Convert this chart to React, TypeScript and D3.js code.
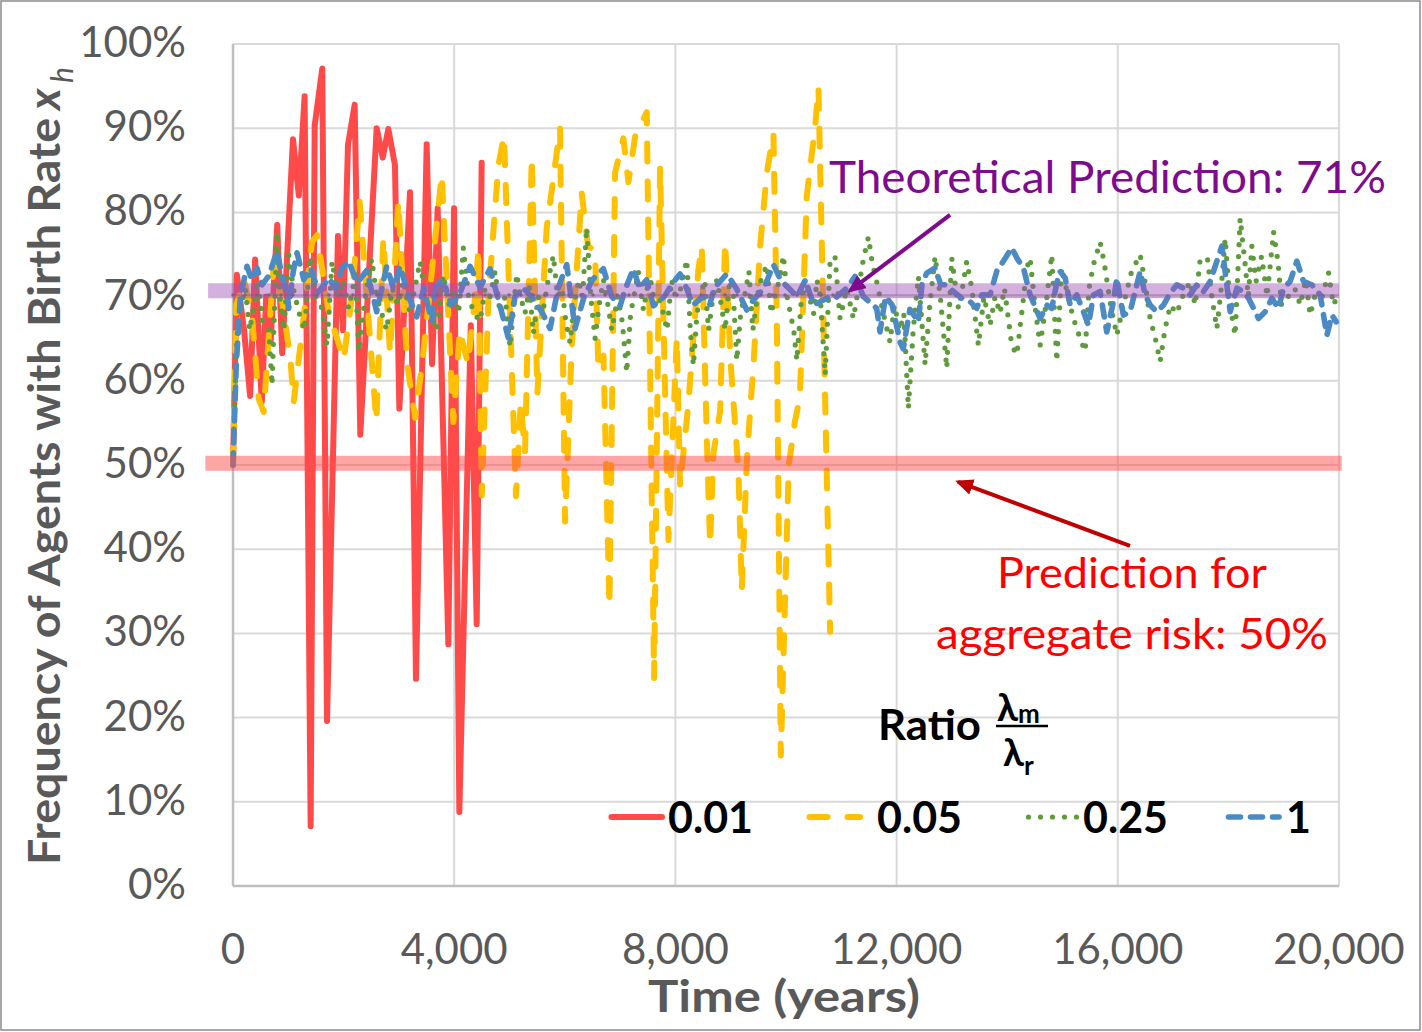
import React from "react";
import * as d3 from "d3";

// values: [years, percent]
const ratio001: [number, number][] = [
  [0, 50], [70, 72.6], [200, 66], [310, 58.2], [400, 74.4], [520, 57.5], [600, 70], [680, 64.6],
  [800, 78.5], [890, 63.3], [1085, 88.7], [1190, 82], [1295, 93.8], [1404, 7.1], [1477, 90.3],
  [1615, 97.1], [1700, 19.6], [1898, 77.2], [1989, 66], [2079, 88], [2200, 92.8], [2302, 53.6],
  [2598, 90], [2707, 86.5], [2809, 89.9], [2929, 85.6], [3008, 56.7], [3201, 82.4], [3309, 24.6],
  [3502, 88.1], [3600, 62], [3701, 80.5], [3894, 28.7], [3997, 80.5], [4093, 8.8], [4300, 66.6],
  [4407, 31.1], [4497, 85.9],
];

const ratio005: [number, number][] = [
  [0, 50], [60, 69], [200, 72], [344, 67.6], [464, 57.9], [555, 56.3], [736, 73.8], [887, 69.4],
  [1037, 62.7], [1098, 57.5], [1250, 66], [1429, 76.5], [1520, 77.3], [1730, 68.2], [2002, 62.5],
  [2150, 70], [2290, 81.3], [2420, 70], [2592, 55.2], [2719, 76.9], [2840, 63.3], [2990, 81.3],
  [3150, 62], [3292, 55.6], [3420, 62], [3550, 70], [3774, 84.5], [3985, 55.1], [4100, 66],
  [4250, 62], [4380, 70], [4438, 75.8], [4498, 46.4], [4620, 70], [4799, 85.6], [4901, 89.1],
  [5118, 46.3], [5203, 57.4], [5281, 51.5], [5402, 86.6], [5504, 58.5], [5673, 78.2], [5914, 90],
  [6005, 43.3], [6125, 64], [6306, 82.3], [6420, 76], [6547, 75.4], [6608, 61.3], [6700, 63],
  [6807, 33.2], [6909, 84.7], [7060, 88.8], [7150, 83.6], [7271, 89], [7482, 91.9], [7615, 24.7],
  [7723, 85.3], [7874, 41.1], [8025, 65.1], [8085, 47.5], [8236, 57.4], [8417, 73.3], [8477, 76],
  [8568, 53.1], [8628, 40.5], [8688, 51.4], [8809, 56.4], [8899, 76.5], [9000, 62], [9140, 49.3],
  [9200, 35.1], [9291, 50.4], [9351, 56.4], [9412, 61.8], [9532, 76], [9653, 84.7], [9773, 89.3],
  [9834, 67.3], [9906, 15.5], [10050, 50], [10165, 55.3], [10250, 58], [10376, 82], [10527, 90.2],
  [10587, 94.8], [10798, 30.2],
];

const ratio025: [number, number][] = [
  [0, 50], [12, 54], [72, 65.4], [150, 69], [223, 71], [300, 66], [374, 68.6], [450, 72], [530, 67],
  [645, 66.2], [706, 59.5], [796, 77.7], [850, 70], [920, 66], [1007, 75], [1090, 71], [1188, 68.2],
  [1290, 66], [1399, 74.8], [1500, 70], [1610, 68.6], [1700, 64.2], [1791, 74.2], [1900, 70],
  [1990, 72], [2093, 68.6], [2213, 72.6], [2274, 63.5], [2350, 68], [2508, 74.5], [2600, 70],
  [2690, 68], [2779, 66], [2880, 71], [2980, 69], [3080, 72], [3200, 68], [3290, 71], [3382, 74.2],
  [3480, 70], [3580, 68], [3684, 66], [3804, 72.6], [3900, 69], [4000, 71], [4080, 68], [4166, 75.8],
  [4260, 70], [4360, 68], [4468, 67.1], [4560, 71], [4648, 70], [4740, 73], [4829, 68], [4920, 70],
  [5010, 64], [5130, 72.7], [5200, 70], [5280, 68], [5360, 71], [5432, 65.6], [5520, 70], [5600, 68],
  [5700, 72], [5793, 74.9], [5870, 70], [5950, 71], [6020, 67], [6095, 64.5], [6170, 69], [6250, 72],
  [6320, 70], [6397, 78.2], [6470, 70], [6547, 65], [6620, 69], [6700, 72], [6780, 69], [6850, 66],
  [6960, 70], [7040, 67], [7120, 61], [7190, 68], [7250, 70], [7330, 73], [7422, 68.4], [7490, 71],
  [7550, 72], [7630, 69], [7700, 70], [7780, 68], [7850, 66], [7930, 72], [8000, 70], [8100, 71],
  [8206, 74.4], [8270, 66], [8326, 61.8], [8390, 68], [8450, 70], [8530, 72], [8600, 66], [8680, 70],
  [8750, 72], [8830, 69], [8900, 66], [8980, 72], [9050, 70], [9110, 62.4], [9180, 68], [9250, 70],
  [9330, 73], [9400, 66], [9480, 70], [9550, 72], [9653, 73.8], [9730, 68], [9800, 70], [9880, 72],
  [9954, 74.9], [10020, 70], [10080, 68], [10140, 66], [10196, 62.4], [10270, 69], [10350, 72],
  [10420, 70], [10500, 68], [10560, 72], [10620, 70], [10708, 60.7], [10798, 74.3], [10886, 74.8],
  [10977, 67.4], [11100, 71], [11218, 67.4], [11310, 71], [11399, 74.4], [11490, 77.1], [11560, 74],
  [11640, 71.8], [11760, 68], [11881, 64.6], [11960, 69], [12060, 66], [12130, 68], [12213, 56.7],
  [12300, 66], [12394, 72.4], [12515, 61.9], [12600, 69], [12696, 74.8], [12790, 70], [12907, 61.5],
  [12997, 74.6], [13118, 68.6], [13190, 71], [13268, 74.2], [13360, 71], [13479, 64.2], [13580, 70],
  [13690, 66.6], [13780, 70], [13870, 68], [13950, 71], [14083, 64.2], [14173, 63.1], [14280, 69],
  [14354, 73.4], [14414, 74.6], [14500, 69], [14595, 64.2], [14700, 69], [14806, 75], [14896, 62.3],
  [14987, 73.4], [15100, 70], [15198, 67.4], [15320, 65], [15409, 63.5], [15480, 71], [15560, 73.8],
  [15680, 76.5], [15760, 73.8], [15870, 69], [15982, 65.4], [16100, 69], [16250, 73], [16404, 75],
  [16490, 71.8], [16585, 67.4], [16680, 65], [16766, 62.3], [16850, 66], [16950, 69], [17067, 68],
  [17170, 70], [17308, 71.8], [17400, 69], [17489, 74.4], [17620, 74.6], [17700, 70], [17791, 66.2],
  [17870, 71], [17942, 76.9], [18030, 69], [18122, 65.4], [18213, 79.3], [18300, 74], [18360, 70],
  [18424, 76], [18500, 71.8], [18600, 74.8], [18700, 70], [18816, 77.7], [18900, 74], [18960, 69],
  [19080, 70], [19200, 71], [19300, 69], [19400, 72], [19479, 67.8], [19560, 70], [19680, 69.6],
  [19811, 72.8], [19900, 69], [20000, 70.5],
];

const ratio1: [number, number][] = [
  [0, 50], [60, 62], [133, 70], [253, 73.6], [340, 72], [434, 73.4], [525, 71.4], [650, 72.5],
  [796, 75.4], [900, 72], [977, 70.6], [1007, 68.6], [1090, 73], [1158, 75.2], [1280, 72],
  [1399, 73.4], [1550, 70.6], [1731, 72.2], [1850, 71], [1972, 73.4], [2093, 74.2], [2243, 71.6],
  [2418, 73.1], [2598, 68.2], [2779, 73.6], [2900, 71], [3020, 73.6], [3180, 70], [3322, 67.6],
  [3450, 71], [3593, 67.1], [3684, 72], [3850, 71], [3950, 69], [4106, 70.4], [4287, 73.6],
  [4467, 71.1], [4648, 73.3], [4829, 68.9], [4979, 65.1], [5100, 70], [5250, 71], [5400, 70],
  [5600, 68], [5733, 66.2], [5880, 71], [6035, 73.8], [6185, 66.2], [6350, 70], [6500, 72],
  [6698, 73.3], [6850, 70], [7000, 68.9], [7100, 71], [7241, 73.3], [7350, 71], [7480, 72],
  [7603, 68.9], [7800, 70], [7940, 71.5], [8085, 72.7], [8200, 71], [8320, 69], [8500, 70],
  [8620, 69], [8700, 71], [8929, 72.7], [9100, 71], [9291, 68.4], [9400, 69.5], [9600, 71],
  [9773, 73.8], [9900, 72], [10050, 71], [10200, 70], [10350, 72], [10500, 69], [10650, 69.5],
  [10800, 70], [10886, 69.8], [11100, 71], [11248, 72.4], [11400, 70], [11640, 68.6], [11700, 65.8],
  [11800, 70], [11920, 69], [12063, 64.6], [12120, 63.8], [12240, 68.5], [12394, 67], [12460, 71.5],
  [12545, 72.8], [12696, 73.4], [12800, 71.4], [12907, 71.4], [13030, 70.6], [13180, 69.8],
  [13330, 69.4], [13449, 68.6], [13540, 70.2], [13690, 70.2], [13811, 73], [13930, 74.2],
  [14083, 75.8], [14173, 74.6], [14294, 73.4], [14414, 70.2], [14595, 67.4], [14716, 69],
  [14806, 68.6], [14896, 71.6], [14957, 73], [15050, 72.2], [15138, 69], [15258, 70.2], [15379, 68.2],
  [15469, 66.6], [15560, 70.2], [15680, 70.6], [15801, 65.8], [15921, 69.4], [15982, 72.2],
  [16042, 69.8], [16102, 67.8], [16222, 68.2], [16404, 73], [16494, 70.2], [16585, 69], [16705, 68.2],
  [16826, 69], [16946, 70.4], [17067, 71.4], [17187, 71], [17308, 70.2], [17429, 71.4], [17550, 70.6],
  [17670, 71.8], [17821, 74.8], [17882, 76], [17972, 71.4], [18032, 68.2], [18153, 71], [18273, 70.6],
  [18364, 69.8], [18545, 67.4], [18665, 68.2], [18786, 69.8], [18906, 68.6], [18997, 71],
  [19117, 71.8], [19238, 74.2], [19358, 71.8], [19509, 71.4], [19660, 70.2], [19781, 65.4],
  [19871, 67.8], [19950, 67],
];

const legendLabels = ["0.01", "0.05", "0.25", "1"];
const xTicks = [0, 4000, 8000, 12000, 16000, 20000];
const yTicks = [0, 10, 20, 30, 40, 50, 60, 70, 80, 90, 100];
const theoryLevel = 70.7;
const aggregateLevel = 50.2;

const W = 1422;
const H = 1032;
const FONT = "Lato, 'Open Sans', 'DejaVu Sans', sans-serif";

const x = d3.scaleLinear().domain([0, 20000]).range([233, 1339]);
const y = d3.scaleLinear().domain([0, 100]).range([886, 44]);

const line = d3
  .line<[number, number]>()
  .x((d) => x(d[0]))
  .y((d) => y(d[1]));

const seriesStyle = [
  { data: ratio001, color: "#FF4A4A", width: 6, dash: undefined },
  { data: ratio005, color: "#FFC000", width: 6, dash: "18,20" },
  { data: ratio025, color: "#5F9B3D", width: 5.2, dash: "0,12" },
  { data: ratio1, color: "#4C8AC3", width: 5.6, dash: "12,10" },
];

const legendX = [609, 807, 1026, 1226];
const legendTextX = [668, 877, 1083, 1286];

const fmtX = d3.format(",");

export default function App() {
  return (
    <div style={{ position: "absolute", left: 0, top: 0 }}>
      <svg width={W} height={H} style={{ display: "block", background: "#fff" }} fontFamily={FONT}>
        <defs>
          <marker id="hp" markerUnits="userSpaceOnUse" markerWidth={18} markerHeight={16} refX={15} refY={8} orient="auto">
            <path d="M0,0 L18,8 L0,16 z" fill="#7E0A8E" />
          </marker>
          <marker id="hr" markerUnits="userSpaceOnUse" markerWidth={18} markerHeight={16} refX={15} refY={8} orient="auto">
            <path d="M0,0 L18,8 L0,16 z" fill="#C00000" />
          </marker>
        </defs>
        <rect x={1} y={1} width={W - 3} height={H - 3} fill="#fff" stroke="#8A8A8A" strokeWidth={1.5} />

        {/* grid */}
        {yTicks.map((t) => (
          <line key={"gy" + t} x1={x(0)} x2={x(20000)} y1={y(t)} y2={y(t)} stroke="#D9D9D9" strokeWidth={2} />
        ))}
        {xTicks.map((t) => (
          <line key={"gx" + t} x1={x(t)} x2={x(t)} y1={y(0)} y2={y(100)} stroke="#D9D9D9" strokeWidth={2} />
        ))}
        <line x1={x(0)} x2={x(0)} y1={y(0)} y2={y(100)} stroke="#BFBFBF" strokeWidth={2.5} />
        <line x1={x(0)} x2={x(20000)} y1={y(0)} y2={y(0)} stroke="#BFBFBF" strokeWidth={2.5} />

        {/* tick labels */}
        {yTicks.map((t) => (
          <text key={"ly" + t} x={186} y={y(t) + 13} textAnchor="end" fontSize={42} fill="#595959">
            {t}%
          </text>
        ))}
        {xTicks.map((t) => (
          <text key={"lx" + t} x={x(t)} y={964} textAnchor="middle" fontSize={42} fill="#595959">
            {fmtX(t)}
          </text>
        ))}

        {/* series */}
        {seriesStyle.map((s, i) => (
          <path
            key={"s" + i}
            d={line(s.data) || ""}
            fill="none"
            stroke={s.color}
            strokeWidth={s.width}
            strokeDasharray={s.dash}
            strokeLinecap="round"
            strokeLinejoin="round"
          />
        ))}

        {/* prediction bands */}
        <line x1={x(0)} x2={x(11000)} y1={y(70.2)} y2={y(70.2)} stroke="#707070" strokeWidth={3.5} strokeDasharray="0,12" strokeLinecap="round" />
        <line x1={x(-450)} x2={x(20000)} y1={y(theoryLevel)} y2={y(theoryLevel)} stroke="#9F4FB8" strokeOpacity={0.45} strokeWidth={15} />
        <line x1={x(0)} x2={x(20000)} y1={y(70.2)} y2={y(70.2)} stroke="#7A5A85" strokeOpacity={0.45} strokeWidth={1.5} />
        <line x1={x(-500)} x2={x(20050)} y1={y(aggregateLevel)} y2={y(aggregateLevel)} stroke="#FF4B4B" strokeOpacity={0.5} strokeWidth={15} />

        {/* annotations */}
        <line x1={x(12966)} y1={y(79.7)} x2={x(11157)} y2={y(70.7)} stroke="#7E0A8E" strokeWidth={4} markerEnd="url(#hp)" />
        <text x={829} y={193} fontSize={44} fill="#7E0A8E" textLength={557} lengthAdjust="spacingAndGlyphs">
          Theoretical Prediction: 71%
        </text>
        <line x1={x(16220)} y1={y(40.4)} x2={x(13110)} y2={y(48)} stroke="#C00000" strokeWidth={4} markerEnd="url(#hr)" />
        <text x={997} y={588} fontSize={42} fill="#FF0000" textLength={270} lengthAdjust="spacingAndGlyphs">
          Prediction for
        </text>
        <text x={936} y={649} fontSize={42} fill="#FF0000" textLength={392} lengthAdjust="spacingAndGlyphs">
          aggregate risk: 50%
        </text>

        {/* legend title */}
        <text x={878} y={740} fontSize={42} fontWeight="bold" fill="#000" textLength={103} lengthAdjust="spacingAndGlyphs">
          Ratio
        </text>
        <text x={997} y={721} fontSize={38} fontWeight="bold" fill="#000">
          λ<tspan fontSize={26} dy={2}>m</tspan>
        </text>
        <line x1={996} x2={1048} y1={726} y2={726} stroke="#000" strokeWidth={2.5} />
        <text x={1003} y={766} fontSize={38} fontWeight="bold" fill="#000">
          λ<tspan fontSize={26} dy={9}>r</tspan>
        </text>

        {/* legend */}
        {seriesStyle.map((s, i) => (
          <g key={"lg" + i}>
            <line
              x1={legendX[i] + 2.5}
              x2={legendX[i] + 53}
              y1={817}
              y2={817}
              stroke={s.color}
              strokeWidth={s.width}
              strokeDasharray={s.dash}
              strokeLinecap="round"
            />
            <text x={legendTextX[i]} y={833} fontSize={43} fontWeight="bold" fill="#000">
              {legendLabels[i]}
            </text>
          </g>
        ))}

        {/* axis titles */}
        <text x={648} y={1012} fontSize={44} fontWeight="bold" fill="#595959" textLength={272} lengthAdjust="spacingAndGlyphs">
          Time (years)
        </text>
        <g transform="translate(60,865) rotate(-90)">
          <text x={0} y={0} fontSize={44} fontWeight="bold" fill="#595959" textLength={747} lengthAdjust="spacingAndGlyphs">
            Frequency of Agents with Birth Rate
          </text>
          <text x={755} y={0} fontSize={44} fontWeight="bold" fontStyle="italic" fill="#595959">
            x
          </text>
          <text x={782} y={13} fontSize={30} fontStyle="italic" fill="#595959">
            h
          </text>
        </g>
      </svg>
    </div>
  );
}
